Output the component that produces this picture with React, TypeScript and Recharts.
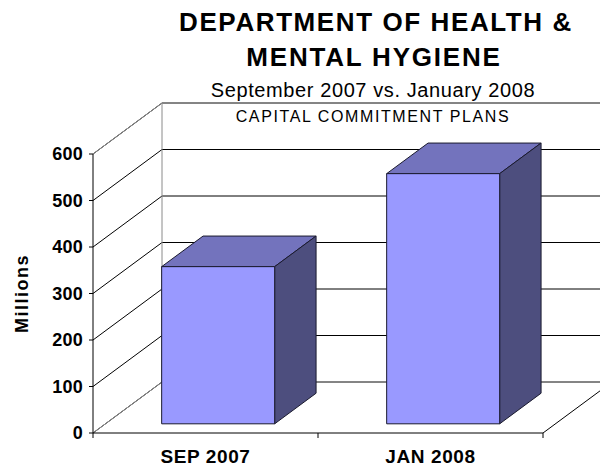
import { Bar, BarChart, CartesianGrid, Label, ReferenceArea, XAxis, YAxis } from 'recharts';

const periods = ['SEP 2007', 'JAN 2008'];
const commitments = [338, 538];
const yTicks = [0, 100, 200, 300, 400, 500, 600];

const titleLines = ['DEPARTMENT OF HEALTH &', 'MENTAL HYGIENE'];
const subtitle = 'September 2007 vs. January 2008';
const caption = 'CAPITAL COMMITMENT PLANS';

const data = periods.map((period, i) => ({ period, value: commitments[i] }));

// oblique depth of the 3d box
const DX = 69;
const DY = -51;
const FRONT = 0.18;
const BACK = 0.78;
const FONT = '"Liberation Sans", Arial, sans-serif';

const gridLine = (props: any) => {
  const { x1, y1, x2 } = props;
  return (
    <g>
      <line x1={x1} y1={y1} x2={x1 + DX} y2={y1 + DY} stroke="#000" strokeWidth={1} />
      <line x1={x1 + DX} y1={y1 + DY} x2={x2 + DX} y2={y1 + DY} stroke="#000" strokeWidth={1} />
    </g>
  );
};

const Frame = (props: any) => {
  const { x, y, width, height } = props;
  const b = y + height;
  const r = x + width;
  const grey = '#8a8a8a';
  return (
    <g>
      <line x1={x} y1={y} x2={x + DX} y2={y + DY} stroke={grey} />
      <line x1={x + DX} y1={y + DY} x2={r + DX} y2={y + DY} stroke={grey} />
      <line x1={x + DX} y1={y + DY} x2={x + DX} y2={b + DY} stroke={grey} />
      <line x1={x} y1={b} x2={x + DX} y2={b + DY} stroke={grey} />
      <line x1={x + DX} y1={b + DY} x2={r + DX} y2={b + DY} stroke={grey} />
      <line x1={r} y1={b} x2={r + DX} y2={b + DY} stroke="#000" />
      {[x, x + width / 2, r].map((tx) => (
        <line key={tx} x1={tx} y1={b} x2={tx} y2={b + 5} stroke="#000" />
      ))}
    </g>
  );
};

const Box3D = (props: any) => {
  const { x, y, width, height } = props;
  const fx = x + DX * FRONT;
  const fy = y + DY * FRONT;
  const bx = x + DX * BACK;
  const by = y + DY * BACK;
  const edge = { stroke: '#1a1a2e', strokeWidth: 1, strokeLinejoin: 'round' as const };
  return (
    <g>
      <polygon
        points={`${fx},${fy} ${fx + width},${fy} ${bx + width},${by} ${bx},${by}`}
        fill="#7373BD"
        {...edge}
      />
      <polygon
        points={`${fx + width},${fy} ${bx + width},${by} ${bx + width},${by + height} ${fx + width},${fy + height}`}
        fill="#4D4E7E"
        {...edge}
      />
      <rect x={fx} y={fy} width={width} height={height} fill="#9999FF" {...edge} />
    </g>
  );
};

const CategoryTick = (props: any) => {
  const { x, y, payload } = props;
  return (
    <text
      x={x}
      y={y + 30}
      textAnchor="middle"
      fontSize={19}
      fontWeight="bold"
      letterSpacing={0.6}
      fill="#000"
    >
      {payload.value}
    </text>
  );
};

const MillionsLabel = (props: any) => {
  const { viewBox } = props;
  const cy = viewBox.y + viewBox.height / 2;
  return (
    <text
      x={22}
      y={cy}
      transform={`rotate(-90, 22, ${cy})`}
      textAnchor="middle"
      dominantBaseline="central"
      fontSize={18}
      fontWeight="bold"
      letterSpacing={1.5}
      fill="#000"
    >
      Millions
    </text>
  );
};

export default function App() {
  return (
    <div
      style={{
        position: 'absolute',
        left: 0,
        top: 0,
        width: 600,
        height: 466,
        overflow: 'hidden',
        background: '#fff',
        fontFamily: FONT,
      }}>
      <BarChart
        width={600}
        height={466}
        data={data}
        margin={{ top: 154, right: 57, bottom: 3, left: 0 }}
        barCategoryGap="25%">
        <CartesianGrid vertical={false} horizontal={gridLine} />
        <ReferenceArea y1={0} y2={600} shape={Frame} fill="none" />
        <XAxis
          dataKey="period"
          height={30}
          axisLine={{ stroke: '#000' }}
          tickLine={false}
          tickSize={0}
          tickMargin={0}
          tick={CategoryTick}
        />
        <YAxis
          width={93}
          domain={[0, 600]}
          ticks={yTicks}
          interval={0}
          axisLine={{ stroke: '#000' }}
          tickLine={{ stroke: '#000' }}
          tickSize={4}
          tickMargin={6}
          tick={{ fontSize: 18, fontWeight: 'bold', fill: '#000', letterSpacing: 0.2 }}>
          <Label content={MillionsLabel} />
        </YAxis>
        <Bar dataKey="value" shape={Box3D} isAnimationActive={false} />
      </BarChart>
      <svg
        width={600}
        height={130}
        style={{ position: 'absolute', left: 0, top: 0, pointerEvents: 'none' }}>
        <text x={376} y={31} textAnchor="middle" fontSize={26} fontWeight="bold" letterSpacing={1.6}>
          {titleLines[0]}
        </text>
        <text x={374} y={66} textAnchor="middle" fontSize={26} fontWeight="bold" letterSpacing={1.8}>
          {titleLines[1]}
        </text>
        <text x={373} y={97} textAnchor="middle" fontSize={20} letterSpacing={0.6}>
          {subtitle}
        </text>
        <text x={373} y={122} textAnchor="middle" fontSize={16} letterSpacing={1.6}>
          {caption}
        </text>
      </svg>
    </div>
  );
}
